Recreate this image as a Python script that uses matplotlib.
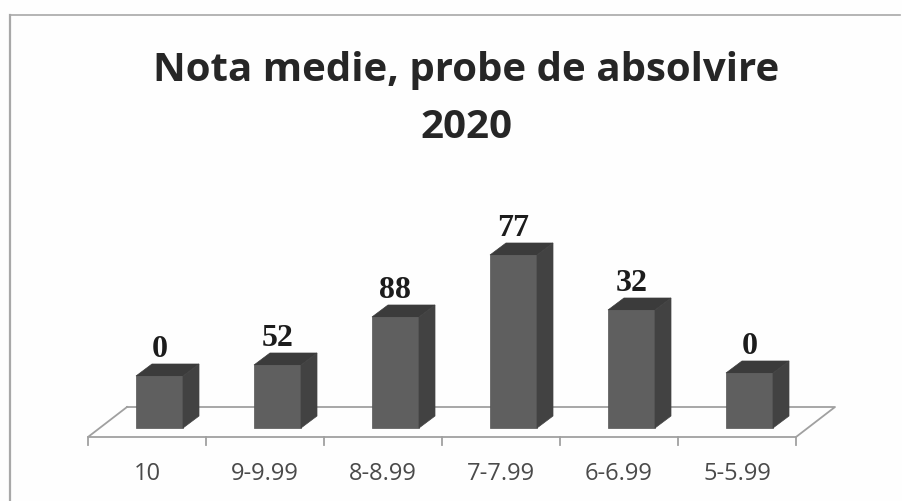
import matplotlib
matplotlib.use("Agg")
import matplotlib.pyplot as plt
from matplotlib.lines import Line2D
from matplotlib.patches import Polygon

# Data
categories = ["10", "9-9.99", "8-8.99", "7-7.99", "6-6.99", "5-5.99"]
values = [0, 52, 88, 77, 32, 0]
# drawn bar heights do not follow the labels in the original, so kept apart
drawn_heights = [52, 63, 111, 173, 118, 55]

W, H = 903, 501
fig = plt.figure(figsize=(W / 100, H / 100), dpi=100, facecolor="#fefefe")

# axes: 1 y unit = 1 px, x units = categories
ax = fig.add_axes([88 / W, (H - 437) / H, (796 - 88) / W, 230 / H])
ax.set_xlim(-0.5, 5.5)
ax.set_ylim(-9, 221)
ax.axis("off")

# 3D depth of the bars and the floor
dx = 16 / 118
dy = 12
floor_dx = 39 / 118
floor_dy = 30
bar_w = 47 / 118
bar_shift = 12.5 / 118
line_col = "#a0a0a0"

x = [i + bar_shift for i in range(len(categories))]

# floor
ax.plot([-0.5 + floor_dx, 5.5 + floor_dx, 5.5, -0.5, -0.5 + floor_dx],
        [-9 + floor_dy, -9 + floor_dy, -9, -9, -9 + floor_dy],
        color=line_col, lw=1.3, clip_on=False, zorder=1)

# ticks and labels
for i in range(len(categories) + 1):
    ax.plot([i - 0.5, i - 0.5], [-9, -17], color=line_col, lw=1.3, clip_on=False, zorder=1)
for i, c in enumerate(categories):
    ax.text(i, -46, c, ha="center", va="center", fontsize=17,
            family="Open Sans", color="#4a4a4a", clip_on=False)

# bars
bars = ax.bar(x, drawn_heights, width=bar_w, color="#5f5f5f", edgecolor="#555555", lw=0.5, zorder=3)
for b, h, v in zip(bars, drawn_heights, values):
    l = b.get_x()
    r = l + b.get_width()
    top = Polygon([(l, h), (l + dx, h + dy), (r + dx, h + dy), (r, h)],
                  closed=True, fc="#3b3b3b", ec="#3b3b3b", lw=0.5, zorder=3)
    side = Polygon([(r, 0), (r + dx, dy), (r + dx, h + dy), (r, h)],
                   closed=True, fc="#424242", ec="#424242", lw=0.5, zorder=3)
    ax.add_patch(top)
    ax.add_patch(side)
    ax.text(b.get_x() + b.get_width() / 2, h + dy + 14.5, str(v), ha="center", va="center",
            fontsize=23, fontweight="bold", family="Liberation Serif", color="#1c1c1c", clip_on=False)

# title
fig.text(466 / W, 1 - 71 / H, "Nota medie, probe de absolvire", ha="center", va="center",
         fontsize=29, fontweight="bold", family="Open Sans", color="#262626")
fig.text(466 / W, 1 - 128 / H, "2020", ha="center", va="center",
         fontsize=29, fontweight="bold", family="Open Sans", color="#262626")

# scanned chart frame
frame_col = "#a8a8a8"
fig.add_artist(Line2D([10 / W, 10 / W], [0, 1 - 15 / H], color=frame_col, lw=1.6))
fig.add_artist(Line2D([10 / W, 900 / W], [1 - 15 / H, 1 - 15 / H], color=frame_col, lw=1.2))

fig.savefig("out.png", dpi=100, facecolor=fig.get_facecolor())
